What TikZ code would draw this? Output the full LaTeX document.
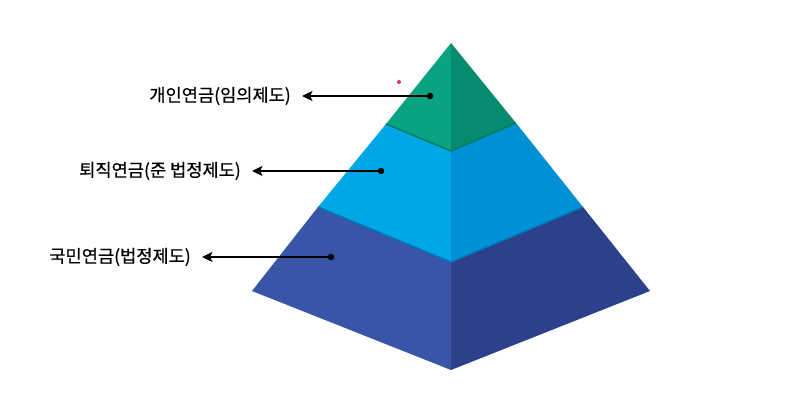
\documentclass[tikz,border=0pt]{standalone}
\usepackage{fontspec}
\setmainfont{Noto Sans CJK KR}
\newfontfamily\tierfont{Noto Sans CJK KR}[FakeBold=0.6]
\usetikzlibrary{arrows.meta}
\definecolor{topL}{HTML}{0AA381}
\definecolor{topR}{HTML}{078B6E}
\definecolor{topE}{HTML}{067A60}
\definecolor{midL}{HTML}{00A7E7}
\definecolor{midR}{HTML}{0090D5}
\definecolor{midE}{HTML}{0079B8}
\definecolor{botL}{HTML}{3955A8}
\definecolor{botR}{HTML}{2D408B}
\definecolor{speck}{HTML}{D23A4E}
\tikzset{
  tiername/.style={anchor=east, inner xsep=11pt, inner ysep=0pt, font=\tierfont\fontsize{17.6}{21}\selectfont},
  dot/.style={circle, fill=black, inner sep=0pt, minimum size=6.5pt},
  pointer/.style={draw=black, line width=2pt, -{Stealth[length=10.5pt,width=10pt,inset=2.5pt]}}
}
\begin{document}
\begin{tikzpicture}[x=1pt,y=-1pt]
    \useasboundingbox (0,0) rectangle (793,403);
    \coordinate (apex) at (451,43);
    \coordinate (l1) at (386,124);
    \coordinate (f1) at (451,151);
    \coordinate (r1) at (516,123);
    \coordinate (l2) at (318,207);
    \coordinate (f2) at (451,262);
    \coordinate (r2) at (583,207);
    \coordinate (l3) at (252,291);
    \coordinate (f3) at (451,370);
    \coordinate (r3) at (650,291);
    \fill[botL] (l2) -- (f2) -- (f3) -- (l3) -- cycle;
    \fill[botR] (f2) -- (r2) -- (r3) -- (f3) -- cycle;
    \fill[midL] (l1) -- (f1) -- (f2) -- (l2) -- cycle;
    \fill[midR] (f1) -- (r1) -- (r2) -- (f2) -- cycle;
    \draw[midE, line width=1.5pt] (l2) -- (f2) -- (r2);
    \fill[topL] (apex) -- (f1) -- (l1) -- cycle;
    \fill[topR] (apex) -- (r1) -- (f1) -- cycle;
    \draw[topE, line width=1.5pt] (l1) -- (f1) -- (r1);
    \fill[speck] (399,82) circle (2pt);
    \node[tiername] (t1) at (302,96) {개인연금(임의제도)};
    \node[tiername] (t2) at (252,171) {퇴직연금(준 법정제도)};
    \node[tiername] (t3) at (202,257) {국민연금(법정제도)};
    \node[dot] (d1) at (430,96) {};
    \node[dot] (d2) at (381,171) {};
    \node[dot] (d3) at (331,257) {};
    \draw[pointer] (d1.center) -- (t1.east);
    \draw[pointer] (d2.center) -- (t2.east);
    \draw[pointer] (d3.center) -- (t3.east);
  \end{tikzpicture}
\end{document}
